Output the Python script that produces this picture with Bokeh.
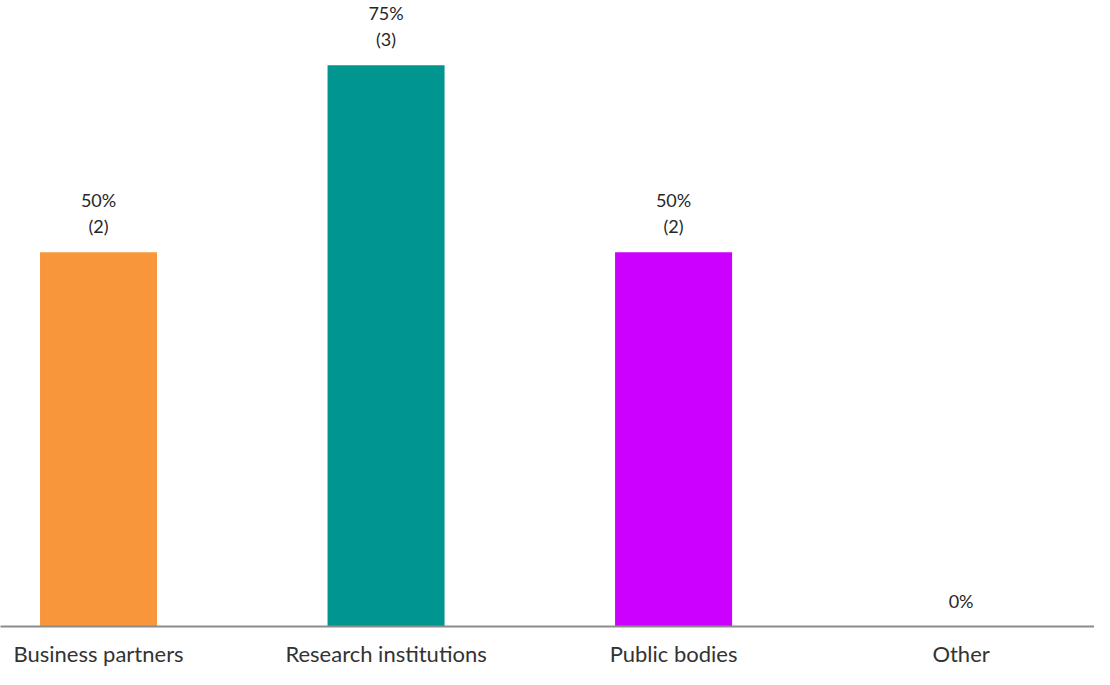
from bokeh.plotting import figure
from bokeh.models import ColumnDataSource, FixedTicker, Range1d
from bokeh.core.properties import value
from bokeh.embed import file_html
from bokeh.resources import INLINE

categories = ["Business partners", "Research institutions", "Public bodies", "Other"]
percent = [50, 75, 50, 0]
counts = [2, 3, 2, 0]
colors = ["#F7963A", "#00968F", "#CC00FF", "#FFFFFF"]

xs = list(range(len(categories)))
labels = []
for pc, c in zip(percent, counts):
    labels.append(f"{pc}%\n({c})" if c > 0 else f"{pc}%")

src = ColumnDataSource(dict(x=xs, top=percent, color=colors, label=labels))

p = figure(width=1094, height=669, output_backend="svg", toolbar_location=None,
           x_range=Range1d(-0.341, 3.464), y_range=Range1d(0, 83.66),
           min_border_left=0, min_border_right=0, min_border_top=0, min_border_bottom=41)
p.outline_line_color = None
p.background_fill_color = "white"
p.border_fill_color = "white"
p.xgrid.visible = False
p.ygrid.visible = False
p.yaxis.visible = False

p.vbar(x="x", top="top", width=0.407, bottom=0, color="color", line_color=None, source=src)

p.text(x="x", y="top", text="label", source=src, text_align="center",
       text_baseline="bottom", y_offset=-15, text_font=value("Lato"),
       text_font_size="18px", text_color="#262626", text_line_height=1.2)

p.xaxis.ticker = FixedTicker(ticks=xs)
p.xaxis.major_label_overrides = {i: c for i, c in zip(xs, categories)}
p.xaxis.major_tick_line_color = None
p.xaxis.minor_tick_line_color = None
p.xaxis.axis_line_color = "#8C8C8C"
p.xaxis.axis_line_width = 2
p.xaxis.major_label_text_font = "Lato"
p.xaxis.major_label_text_font_size = "22px"
p.xaxis.major_label_text_color = "#333333"
p.xaxis.major_label_standoff = 7

open("out.html", "w").write(file_html(p, INLINE))
